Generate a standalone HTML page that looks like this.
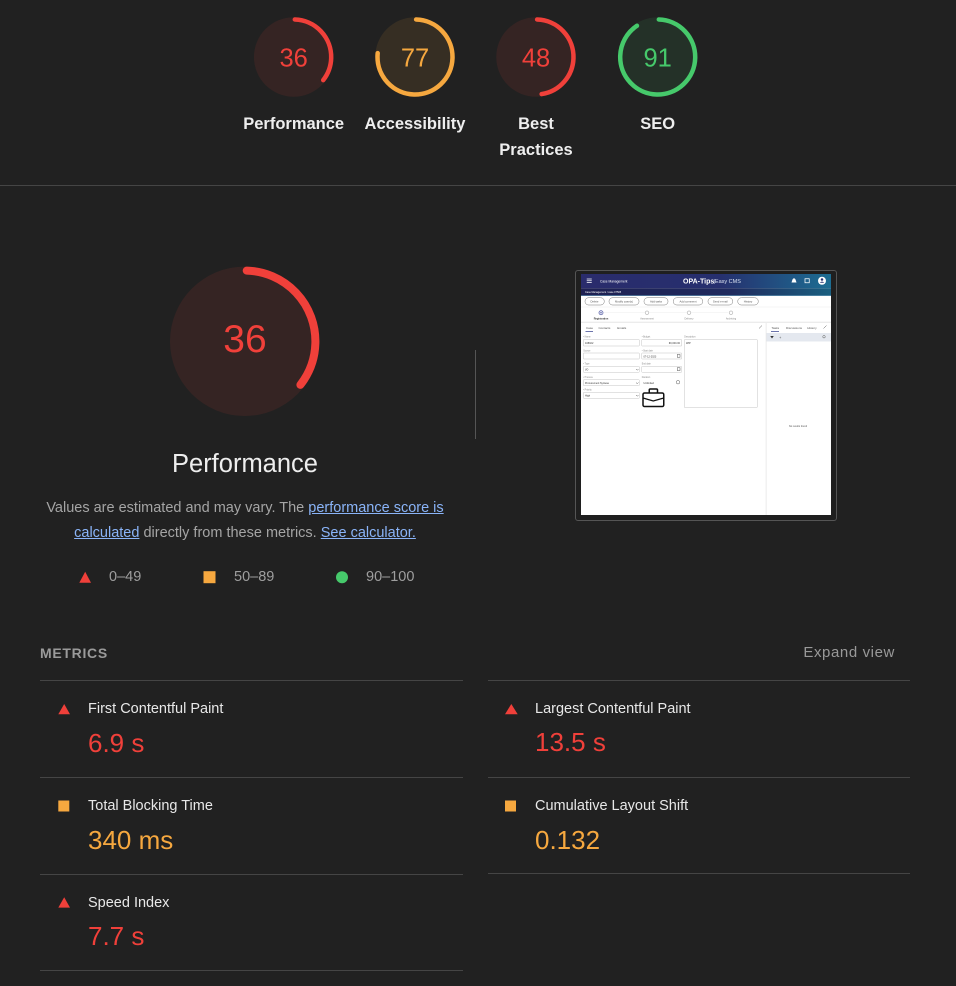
<!DOCTYPE html>
<html><head><meta charset="utf-8">
<style>
html,body{margin:0;padding:0;}
body{width:956px;height:986px;background:#212121;overflow:hidden;position:relative;font-family:"Liberation Sans",sans-serif;}
.a{position:absolute;white-space:nowrap;}
.lbl{color:#eeeeee;font-weight:bold;font-size:16.5px;line-height:26px;text-align:center;width:140px;top:110.5px;}
.desc{color:#a5a5a5;font-size:14.5px;line-height:25px;text-align:center;left:0;width:490px;top:496px;}
.desc a{color:#8ab4f8;text-decoration:underline;}
.leg{color:#9e9e9e;font-size:14.5px;line-height:20px;top:567px;}
.mt{color:#e8e8e8;font-size:14.5px;line-height:20px;}
.mv{font-size:26px;line-height:30px;}
.red{color:#f0403a;}
.org{color:#f6a83f;}
.hl{position:absolute;height:1px;background:#454545;}
</style></head>
<body>

<svg class="a" style="left:0;top:0" width="956" height="986" viewBox="0 0 956 986" font-family="Liberation Sans, sans-serif">
  <g>
    <circle cx="293.7" cy="57" r="39.75" fill="#f0403a" fill-opacity=".1"/>
    <circle cx="293.7" cy="57" r="37.5" fill="none" stroke="#f0403a" stroke-width="4.5" stroke-linecap="round" stroke-dasharray="82.57 235.6" transform="rotate(-88.28 293.7 57)"/>
    <text x="293.7" y="66.7" text-anchor="middle" font-size="25.5" fill="#f0403a">36</text>

    <circle cx="415" cy="57" r="39.75" fill="#f6a83f" fill-opacity=".1"/>
    <circle cx="415" cy="57" r="37.5" fill="none" stroke="#f6a83f" stroke-width="4.5" stroke-linecap="round" stroke-dasharray="179.2 235.6" transform="rotate(-88.28 415 57)"/>
    <text x="415" y="66.7" text-anchor="middle" font-size="25.5" fill="#f6a83f">77</text>

    <circle cx="536" cy="57" r="39.75" fill="#f0403a" fill-opacity=".1"/>
    <circle cx="536" cy="57" r="37.5" fill="none" stroke="#f0403a" stroke-width="4.5" stroke-linecap="round" stroke-dasharray="110.85 235.6" transform="rotate(-88.28 536 57)"/>
    <text x="536" y="66.7" text-anchor="middle" font-size="25.5" fill="#f0403a">48</text>

    <circle cx="657.7" cy="57" r="39.75" fill="#46c96b" fill-opacity=".1"/>
    <circle cx="657.7" cy="57" r="37.5" fill="none" stroke="#46c96b" stroke-width="4.5" stroke-linecap="round" stroke-dasharray="212.15 235.6" transform="rotate(-88.28 657.7 57)"/>
    <text x="657.7" y="66.7" text-anchor="middle" font-size="25.5" fill="#46c96b">91</text>
  </g>

  <circle cx="244.7" cy="341.3" r="74.7" fill="#f0403a" fill-opacity=".1"/>
  <circle cx="244.7" cy="341.3" r="70.7" fill="none" stroke="#f0403a" stroke-width="8" stroke-linecap="round" stroke-dasharray="155.9 444.2" transform="rotate(-88.38 244.7 341.3)"/>
  <text x="245" y="352" text-anchor="middle" font-size="39" fill="#f0403a">36</text>

  <polygon points="85.2,571.7 91,582.7 79.3,582.7" fill="#f0403a"/>
  <rect x="203.5" y="571.2" width="12" height="12" fill="#f6a83f"/>
  <circle cx="342" cy="577.2" r="6" fill="#46c96b"/>

  <polygon points="64.2,704 70,714.2 58.3,714.2" fill="#f0403a"/>
  <polygon points="511.3,704 517.7,714.2 505,714.2" fill="#f0403a"/>
  <rect x="58.3" y="800.5" width="11" height="11" fill="#f6a83f"/>
  <rect x="505" y="800.5" width="11" height="11" fill="#f6a83f"/>
  <polygon points="64.2,897.2 70,907.6 58.3,907.6" fill="#f0403a"/>
</svg>

<div class="a lbl" style="left:223.7px;">Performance</div>
<div class="a lbl" style="left:345px;">Accessibility</div>
<div class="a lbl" style="left:466px;">Best<br>Practices</div>
<div class="a lbl" style="left:587.7px;">SEO</div>

<div class="hl" style="left:0;top:185px;width:956px;"></div>

<div class="a" style="left:0;width:490px;text-align:center;top:447px;line-height:34px;font-size:25.5px;color:#eeeeee;">Performance</div>

<div class="a desc">Values are estimated and may vary. The <a>performance score is</a><br><a>calculated</a> directly from these metrics. <a>See calculator.</a></div>

<div class="a leg" style="left:109px;">0–49</div>
<div class="a leg" style="left:234px;">50–89</div>
<div class="a leg" style="left:366px;">90–100</div>

<div class="a" style="left:475px;top:350px;width:1px;height:89px;background:#555;"></div>

<div class="a" style="left:575px;top:270px;width:262px;height:251px;box-sizing:border-box;border:1px solid #555;border-radius:3px;background:#1f1f1f;"></div>
<svg class="a" style="left:581px;top:274px" width="250" height="241" viewBox="0 0 1000 964" font-family="Liberation Sans, sans-serif">
  <defs>
    <linearGradient id="hd" x1="0" x2="1" y1="0" y2="0"><stop offset="0" stop-color="#2a2c6c"/><stop offset=".55" stop-color="#262f6e"/><stop offset="1" stop-color="#1d6d92"/></linearGradient>
    <linearGradient id="bc" x1="0" x2="1" y1="0" y2="0"><stop offset="0" stop-color="#1e2052"/><stop offset=".6" stop-color="#1f2a5e"/><stop offset="1" stop-color="#1a5f80"/></linearGradient>
  </defs>
  <rect width="1000" height="964" fill="#ffffff"/>
  <rect width="1000" height="57" fill="url(#hd)"/>
  <rect y="57" width="1000" height="30" fill="url(#bc)"/>
  <rect y="85" width="1000" height="2" fill="#3d7fa3"/>
  <g stroke="#ffffff" stroke-width="3"><line x1="23" y1="20" x2="43" y2="20"/><line x1="23" y1="27" x2="43" y2="27"/><line x1="23" y1="34" x2="43" y2="34"/></g>
  <text x="76" y="33" font-size="13" fill="#ffffff">Case Management</text>
  <text x="408" y="37" font-size="28" font-weight="bold" fill="#ffffff">OPA-Tips</text>
  <text x="530" y="36" font-size="22" fill="#d8e0f0">|Easy CMS</text>
  <path d="M842 34 L846 22 Q848 17 852 17 Q856 17 858 22 L862 34 Z" fill="#ffffff"/>
  <rect x="896" y="19" width="17" height="16" fill="none" stroke="#ffffff" stroke-width="3"/>
  <circle cx="964" cy="27" r="16" fill="#ffffff"/>
  <circle cx="964" cy="22" r="5" fill="#27306f"/>
  <path d="M955 35 Q964 26 973 35 Z" fill="#27306f"/>
  <text x="16" y="76" font-size="10" fill="#ffffff">Case Management  /  case 07505</text>

  <g fill="#ffffff" stroke="#777" stroke-width="2">
    <rect x="16" y="95" width="77" height="29" rx="14"/>
    <rect x="112" y="95" width="120" height="29" rx="14"/>
    <rect x="252" y="95" width="96" height="29" rx="14"/>
    <rect x="369" y="95" width="118" height="29" rx="14"/>
    <rect x="508" y="95" width="99" height="29" rx="14"/>
    <rect x="627" y="95" width="82" height="29" rx="14"/>
  </g>
  <g font-size="11" fill="#555" text-anchor="middle">
    <text x="54" y="114">Delete</text>
    <text x="172" y="114">Modify case(s)</text>
    <text x="300" y="114">Add tasks</text>
    <text x="428" y="114">Add comment</text>
    <text x="557" y="114">Send e-mail</text>
    <text x="668" y="114">History</text>
  </g>
  <rect y="131" width="1000" height="2" fill="#eeeeee"/>
  <line x1="92" y1="155" x2="588" y2="155" stroke="#eeeeee" stroke-width="2"/>
  <circle cx="80" cy="155" r="8" fill="#fff" stroke="#4b53a0" stroke-width="3"/>
  <circle cx="80" cy="155" r="3" fill="#4b53a0"/>
  <circle cx="264" cy="155" r="7" fill="#fff" stroke="#bbbbbb" stroke-width="3"/>
  <circle cx="432" cy="155" r="7" fill="#fff" stroke="#bbbbbb" stroke-width="3"/>
  <circle cx="600" cy="155" r="7" fill="#fff" stroke="#bbbbbb" stroke-width="3"/>
  <g font-size="10" text-anchor="middle" fill="#888">
    <text x="80" y="181" font-weight="bold" fill="#333">Registration</text>
    <text x="264" y="181">Assessment</text>
    <text x="432" y="181">Delivery</text>
    <text x="600" y="181">Archiving</text>
  </g>
  <rect y="191" width="1000" height="4" fill="#e6e6e6"/>
  <g font-size="12" fill="#555">
    <text x="20" y="219">Case</text>
    <text x="70" y="219">Contacts</text>
    <text x="145" y="219">Emails</text>
    <text x="762" y="219">Tasks</text>
    <text x="820" y="219">Discussions</text>
    <text x="905" y="219">History</text>
  </g>
  <rect x="18" y="228" width="30" height="3" fill="#3b4690"/>
  <rect x="760" y="228" width="32" height="3" fill="#3b4690"/>
  <g stroke="#555" stroke-width="2"><line x1="712" y1="218" x2="724" y2="206"/><line x1="970" y1="218" x2="982" y2="206"/></g>
  <rect x="739" y="196" width="3" height="768" fill="#e6e6e6"/>
  <rect x="742" y="236" width="258" height="34" fill="#e4e8ef"/>
  <polygon points="757,248 771,248 764,258" fill="#333"/>
  <text x="793" y="260" font-size="14" fill="#444">+</text>
  <circle cx="972" cy="251" r="5" fill="none" stroke="#555" stroke-width="2"/>
  <text x="868" y="612" font-size="10" fill="#555" text-anchor="middle">No results found</text>

  <g font-size="9" fill="#888">
    <text x="9" y="254">• Name</text><text x="243" y="254">• Budget</text><text x="413" y="254">Description</text>
    <text x="9" y="309">Source</text><text x="243" y="309">• Start date</text>
    <text x="9" y="362">• Type</text><text x="243" y="362">End date</text>
    <text x="9" y="415">• Process</text><text x="243" y="415">Duration</text>
    <text x="9" y="466">• Priority</text>
  </g>
  <g fill="#ffffff" stroke="#c4c4c4" stroke-width="2">
    <rect x="9" y="262" width="224" height="26" rx="2"/>
    <rect x="243" y="262" width="160" height="26" rx="2"/>
    <rect x="413" y="262" width="292" height="272" rx="2"/>
    <rect x="9" y="316" width="224" height="24" rx="2"/>
    <rect x="243" y="316" width="160" height="24" rx="2"/>
    <rect x="9" y="369" width="224" height="24" rx="2"/>
    <rect x="243" y="369" width="160" height="24" rx="2"/>
    <rect x="9" y="423" width="224" height="24" rx="2"/>
    <rect x="9" y="473" width="224" height="24" rx="2"/>
  </g>
  <g font-size="10" fill="#333">
    <text x="16" y="280">108022</text>
    <text x="396" y="280" text-anchor="end">€0,000.00</text>
    <text x="420" y="280">WIP</text>
    <text x="250" y="333">07-12-2023</text>
    <text x="16" y="386">I/O</text>
    <text x="16" y="440">Procurement Syntese</text>
    <text x="250" y="440">Unlimited</text>
    <text x="16" y="490">High</text>
  </g>
  <g fill="none" stroke="#555" stroke-width="2">
    <rect x="385" y="322" width="11" height="11"/>
    <rect x="385" y="375" width="11" height="11"/>
    <polyline points="220,380 225,385 230,380"/>
    <polyline points="220,434 225,439 230,434"/>
    <polyline points="220,484 225,489 230,484"/>
    <circle cx="388" cy="433" r="7"/>
  </g>
  <g fill="none" stroke="#111" stroke-width="6">
    <rect x="273" y="460" width="33" height="18" rx="4"/>
    <rect x="248" y="476" width="83" height="54" rx="6" fill="#fff"/>
    <path d="M248 496 L289 508 L331 496" stroke-width="5"/>
  </g>
</svg>

<div class="a" style="left:40px;top:643px;line-height:20px;font-size:14px;font-weight:bold;letter-spacing:0.7px;color:#9a9a9a;">METRICS</div>
<div class="a" style="right:61px;top:643px;line-height:20px;font-size:15px;letter-spacing:0.6px;color:#999;">Expand view</div>

<div class="hl" style="left:40px;width:423px;top:680px;"></div>
<div class="hl" style="left:40px;width:423px;top:777px;"></div>
<div class="hl" style="left:40px;width:423px;top:874px;"></div>
<div class="hl" style="left:40px;width:423px;top:970px;"></div>
<div class="hl" style="left:488px;width:422px;top:680px;"></div>
<div class="hl" style="left:488px;width:422px;top:777px;"></div>
<div class="hl" style="left:488px;width:422px;top:873px;"></div>

<div class="a mt" style="left:88px;top:699px;">First Contentful Paint</div>
<div class="a mv red" style="left:88px;top:728px;">6.9 s</div>
<div class="a mt" style="left:535px;top:699px;">Largest Contentful Paint</div>
<div class="a mv red" style="left:535px;top:727px;">13.5 s</div>

<div class="a mt" style="left:88px;top:795.5px;">Total Blocking Time</div>
<div class="a mv org" style="left:88px;top:825px;">340 ms</div>
<div class="a mt" style="left:535px;top:795.5px;">Cumulative Layout Shift</div>
<div class="a mv org" style="left:535px;top:825px;">0.132</div>

<div class="a mt" style="left:88px;top:892.7px;">Speed Index</div>
<div class="a mv red" style="left:88px;top:921px;">7.7 s</div>

</body></html>
